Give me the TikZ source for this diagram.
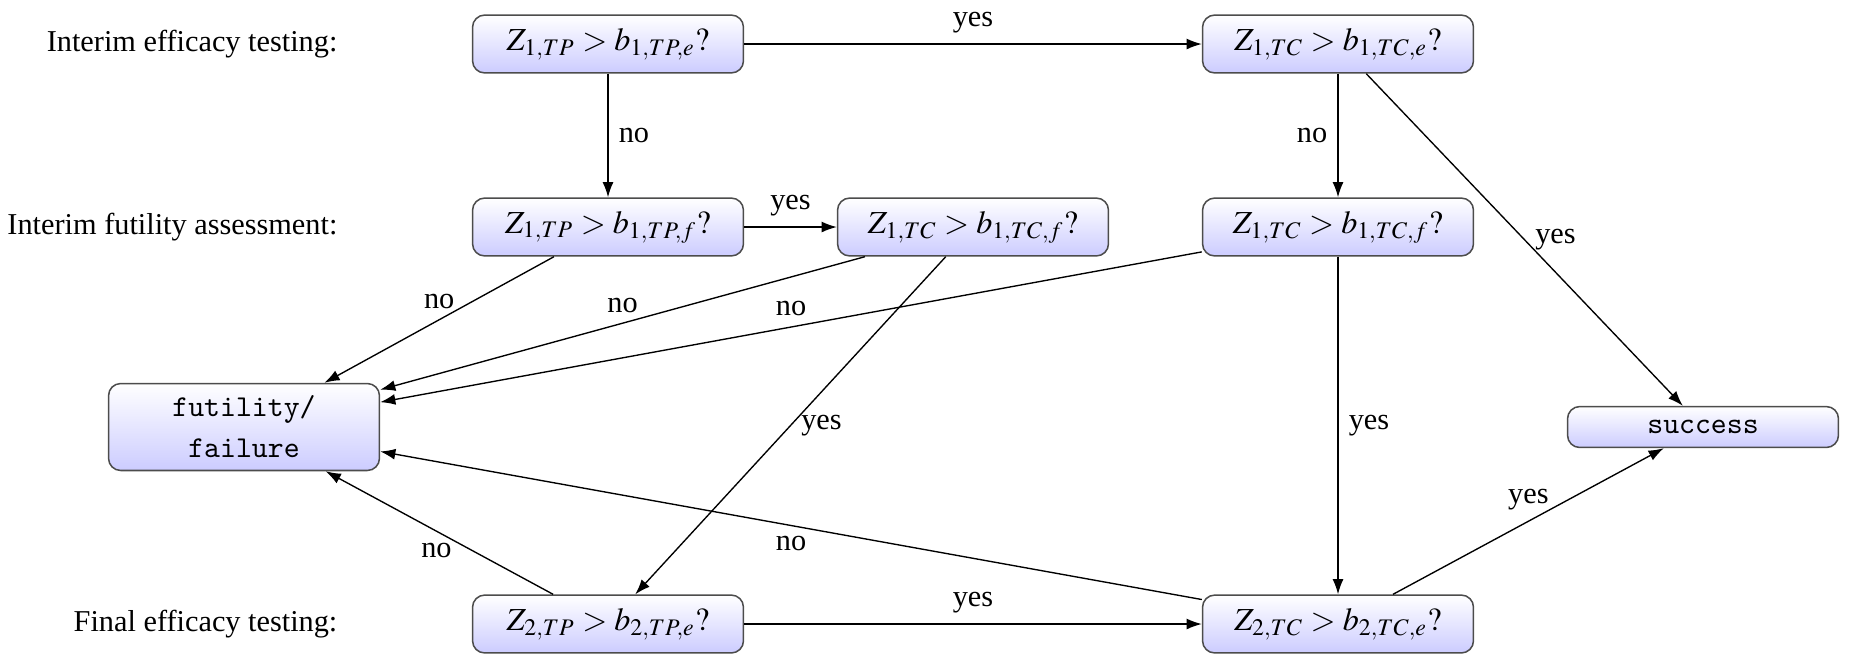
\documentclass[tikz,border=0pt]{standalone}
\usepackage{mathptmx}
\usepackage[no-math]{fontspec}
\setmainfont{Liberation Serif}
\usetikzlibrary{arrows.meta}
\tikzset{
  box/.style={draw=black!70, line width=0.5pt, rounded corners=4pt, top color=white, bottom color=blue!20,
    minimum width=89.4pt, minimum height=19.1pt, inner sep=2pt, font=\fontsize{10.6}{12.7}\selectfont},
  rowlbl/.style={anchor=east, inner sep=0pt},
  arr/.style={-{Latex[length=5pt,width=3.6pt]}, line width=0.45pt},
}
\begin{document}
\begin{tikzpicture}[x=0.33pt,y=-0.33pt]
\useasboundingbox (0,0) rectangle (1849,669);
% row labels
\node[rowlbl] (r1) at (338,44) {Interim efficacy testing:};
\node[rowlbl] (r2) at (338,227) {Interim futility assessment:};
\node[rowlbl] (r3) at (338,624) {Final efficacy testing:};
% boxes
\node[box] (tp1e) at (608,44) {$Z_{1,TP} > b_{1,TP,e}?$};
\node[box] (tc1e) at (1338,44) {$Z_{1,TC} > b_{1,TC,e}?$};
\node[box] (tp1f) at (608,227) {$Z_{1,TP} > b_{1,TP,f}?$};
\node[box] (tc1fm) at (973,227) {$Z_{1,TC} > b_{1,TC,f}?$};
\node[box] (tc1f) at (1338,227) {$Z_{1,TC} > b_{1,TC,f}?$};
\node[box, minimum height=28.7pt, font=\normalsize\ttfamily, align=center] (fut) at (244,427) {futility/\\[1.5pt]failure};
\node[box, minimum height=13.5pt, font=\normalsize\ttfamily] (succ) at (1703,427) {success};
\node[box] (tp2e) at (608,624) {$Z_{2,TP} > b_{2,TP,e}?$};
\node[box] (tc2e) at (1338,624) {$Z_{2,TC} > b_{2,TC,e}?$};
% connectors
\draw[arr] (tp1e) -- node[above] {yes} (tc1e);
\draw[arr] (tp1e) -- node[right] {no} (tp1f);
\draw[arr] (tp1f) -- node[above] {yes} (tc1fm);
\draw[arr] (tc1e) -- node[left] {no} (tc1f);
\draw[arr] (tc1e) -- node[right] {yes} (succ);
\draw[arr] (tp1f) -- node[above] {no} (fut);
\draw[arr] (tc1fm) -- node[above] {no} (fut);
\draw[arr] (tc1f) -- node[above] {no} (fut);
\draw[arr] (tc1fm) -- node[right] {yes} (tp2e);
\draw[arr] (tc1f) -- node[right] {yes} (tc2e);
\draw[arr] (tp2e) -- node[below, xshift=-1pt] {no} (fut);
\draw[arr] (tc2e) -- node[below] {no} (fut);
\draw[arr] (tp2e) -- node[above] {yes} (tc2e);
\draw[arr] (tc2e) -- node[above] {yes} (succ);
\end{tikzpicture}
\end{document}
